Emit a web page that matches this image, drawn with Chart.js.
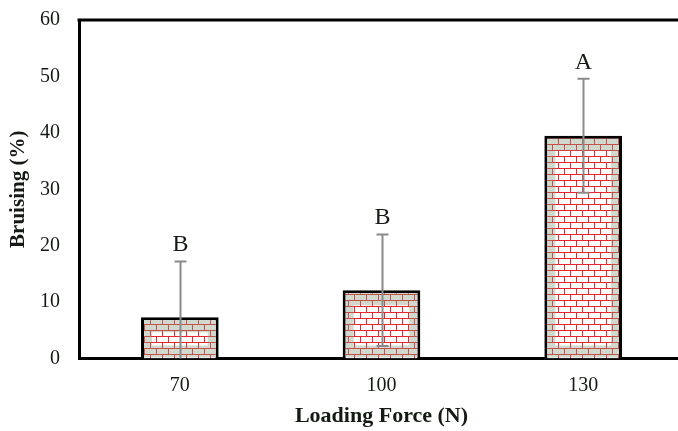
<!DOCTYPE html>
<html>
<head>
<meta charset="utf-8">
<script src="https://cdn.jsdelivr.net/npm/chart.js@4.4.1/dist/chart.umd.min.js"></script>
<style>
  html, body { margin: 0; padding: 0; overflow: hidden; background: #fff; }
  #wrap { width: 678px; height: 431px; overflow: hidden; }
  canvas { display: block; }
</style>
</head>
<body>
<div id="wrap"><canvas id="c" width="684" height="431"></canvas></div>
<script>
// Bruising under three loading forces, mean ± SD, with grouping letters
const forces = ['70', '100', '130'];
const bruising = [7.3, 12.1, 39.5];
const errors = [9.9, 9.9, 10.1];
const groups = ['B', 'B', 'A'];
const yMin = 0, yMax = 60, yStep = 10;

const SERIF = '"Liberation Serif", "DejaVu Serif", serif';
const INK = '#151a15';

// Red-mortar brick fill
function brickPattern() {
  const p = document.createElement('canvas');
  p.width = 12; p.height = 12;
  const g = p.getContext('2d');
  g.fillStyle = '#ffffff';
  g.fillRect(0, 0, 12, 12);
  g.fillStyle = '#e8262c';
  g.fillRect(0, 0, 12, 1);
  g.fillRect(0, 6, 12, 1);
  g.fillRect(0, 0, 1, 6);
  g.fillRect(6, 6, 1, 6);
  return g.createPattern(p, 'repeat');
}

const ctx = document.getElementById('c').getContext('2d');

// Greyish shading along the inside edges of each bar
const barShade = {
  id: 'barShade',
  afterDatasetDraw(chart, args) {
    const c = chart.ctx;
    const meta = chart.getDatasetMeta(args.index);
    c.save();
    c.fillStyle = 'rgba(135,155,125,0.38)';
    meta.data.forEach(bar => {
      const { x, y, base, width } = bar.getProps(['x', 'y', 'base', 'width'], true);
      const bw = 3;
      const l = x - width / 2 + bw, r = x + width / 2 - bw;
      const t = y + bw, b = base - 1;
      const h = b - t;
      const side = 8, tb = Math.min(12, h / 3);
      c.fillRect(l, t, side, h);
      c.fillRect(r - side, t, side, h);
      c.fillRect(l + side, t, r - l - 2 * side, tb);
      c.fillRect(l + side, b - tb, r - l - 2 * side, tb);
    });
    c.restore();
  }
};

// Error whiskers and group letters
const whiskers = {
  id: 'whiskers',
  afterDatasetsDraw(chart) {
    const c = chart.ctx;
    const ys = chart.scales.y;
    const meta = chart.getDatasetMeta(0);
    c.save();
    c.strokeStyle = '#8a8a8a';
    c.lineWidth = 2;
    meta.data.forEach((bar, i) => {
      const x = Math.round(bar.x) + 0.5;
      const hi = bruising[i] + errors[i];
      const lo = bruising[i] - errors[i];
      const yHi = ys.getPixelForValue(hi);
      const yLo = ys.getPixelForValue(Math.max(lo, yMin));
      const cap = 6;
      c.beginPath();
      c.moveTo(x, yHi); c.lineTo(x, yLo);
      c.moveTo(x - cap, yHi); c.lineTo(x + cap, yHi);
      if (lo > yMin) { c.moveTo(x - cap, yLo); c.lineTo(x + cap, yLo); }
      c.stroke();
      c.fillStyle = INK;
      c.font = '24px ' + SERIF;
      c.textAlign = 'center';
      c.textBaseline = 'alphabetic';
      c.fillText(groups[i], x, yHi - 10);
    });
    c.restore();
  }
};

// Top edge of the plot frame
const frameTop = {
  id: 'frameTop',
  afterDraw(chart) {
    const { left, right, top } = chart.chartArea;
    const c = chart.ctx;
    c.save();
    c.strokeStyle = '#000';
    c.lineWidth = 3;
    c.beginPath();
    c.moveTo(left - 1.5, top);
    c.lineTo(right, top);
    c.stroke();
    c.restore();
  }
};

new Chart(ctx, {
  type: 'bar',
  data: {
    labels: forces,
    datasets: [{
      data: bruising,
      backgroundColor: brickPattern(),
      borderColor: '#000',
      borderWidth: 3,
      borderSkipped: 'bottom',
      barPercentage: 0.385,
      categoryPercentage: 1
    }]
  },
  options: {
    responsive: false,
    animation: false,
    devicePixelRatio: 1,
    layout: { padding: { top: 20, right: 0, left: 0, bottom: 0 } },
    plugins: { legend: { display: false }, tooltip: { enabled: false } },
    scales: {
      x: {
        grid: { display: false, drawTicks: false },
        border: { display: true, color: '#000', width: 3 },
        ticks: { color: INK, font: { family: SERIF, size: 20 }, padding: 15 },
        title: {
          display: true, text: 'Loading Force (N)', color: INK,
          font: { family: SERIF, size: 22, weight: 'bold' },
          padding: { top: 0, bottom: 1 }
        },
        afterFit(s) {
          s.height = 72.5;
          s.paddingLeft = 0; s.paddingRight = 0;
        }
      },
      y: {
        min: yMin, max: yMax,
        grid: { display: false, drawTicks: false },
        border: { display: true, color: '#000', width: 3 },
        ticks: { stepSize: yStep, color: INK, font: { family: SERIF, size: 20 }, padding: 19 },
        title: {
          display: true, text: 'Bruising (%)', color: INK,
          font: { family: SERIF, size: 21, weight: 'bold' },
          padding: { top: 6, bottom: 0 }
        },
        afterFit(s) {
          s.width = 79;
          s.paddingTop = 0; s.paddingBottom = 0;
        }
      }
    }
  },
  plugins: [barShade, whiskers, frameTop]
});
</script>
</body>
</html>
